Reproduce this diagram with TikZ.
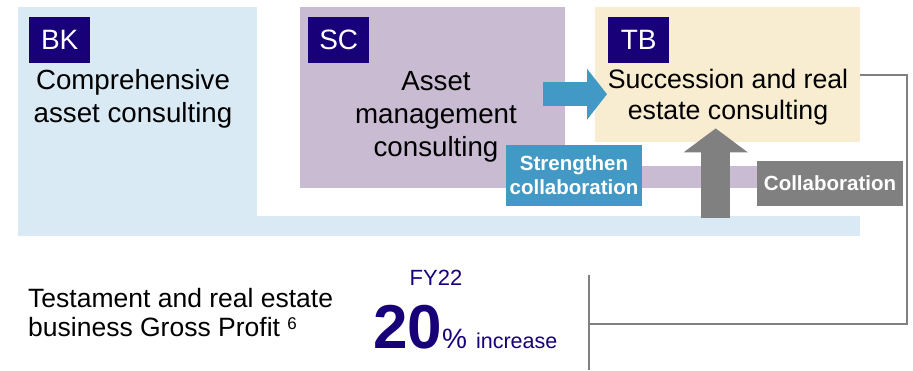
\documentclass[tikz,border=0pt]{standalone}
\usepackage{fontspec}
\setmainfont{Liberation Sans}
\usetikzlibrary{arrows.meta,calc}
\definecolor{navy}{HTML}{170078}
\definecolor{skyblu}{HTML}{DAEAF4}
\definecolor{lilac}{HTML}{C9BBD1}
\definecolor{sand}{HTML}{F8EDD1}
\definecolor{blu}{HTML}{4299C6}
\definecolor{gry}{HTML}{808080}
\tikzset{
  region/.style={anchor=north west, inner sep=0pt},
  tag/.style={region, fill=navy, text=white, minimum width=61pt, minimum height=46pt, font=\fontsize{28}{28}\selectfont},
  body/.style={anchor=base, align=center, inner sep=0pt, font=\fontsize{27.7}{33}\selectfont},
  badge/.style={inner sep=0pt, text=white, align=center, font=\fontsize{20.5}{24}\selectfont\bfseries},
  link/.style={gry, line width=2pt},
}

\begin{document}
\begin{tikzpicture}[x=1pt, y=-1pt]
  \useasboundingbox (0,0) rectangle (913,370);
  % Regions
  \node[region, fill=skyblu, minimum width=239pt, minimum height=229pt] (bk) at (18,7) {};
  \fill[skyblu] (bk.south east) rectangle (860,216);
  \node[region, fill=lilac, minimum width=265pt, minimum height=181pt] (sc) at (300,7) {};
  \fill[lilac] (sc.south east) rectangle (757,166);
  \node[region, fill=sand, minimum width=265pt, minimum height=135pt] (tb) at (595,7) {};
  % Tags
  \node[tag] (bktag) at (29,17) {BK};
  \node[tag] (sctag) at (308,17) {SC};
  \node[tag] (tbtag) at (608,17) {TB};
  % Texts (base = last line)
  \node[body] (bktext) at (133,122) {Comprehensive\\asset consulting};
  \node[body] (sctext) at (436,156) {Asset\\management\\consulting};
  \node[body, font=\fontsize{26.7}{31}\selectfont] (tbtext) at (728,119) {Succession and real\\estate consulting};
  % Arrows
  \coordinate (bluestart) at ([xshift=-22pt, yshift=3.5pt]sc.east);
  \draw[blu, line width=24pt, -{Triangle[length=20pt, width=50pt]}] (bluestart) -- ($(tb.west |- bluestart)+(12,0)$);
  \node[badge, fill=blu, minimum width=136pt, minimum height=61pt] (strengthen) at (574,175.5) {Strengthen\\collaboration};
  \draw[gry, line width=29pt, -{Triangle[length=24pt, width=63pt]}] ($(tb.south)+(-12,76)$) -- ($(tb.south)+(-12,-14)$);
  \node[badge, fill=gry, minimum width=146pt, minimum height=45pt] (collab) at (830,183.5) {Collaboration};
  % Lines
  \coordinate (septop) at (589,275);
  \coordinate (sepmid) at (589,324);
  \coordinate (sepbot) at (589,370);
  \draw[link] (tb.east) -- ++(47,0) |- (sepmid);
  \draw[link] (septop) -- (sepbot);
  % Result
  \node[anchor=base west, align=left, inner sep=0pt, font=\fontsize{26.5}{29}\selectfont] (gp) at (28,336) {Testament and real estate\\business Gross Profit \raisebox{7pt}{\fontsize{17}{17}\selectfont 6}};
  \node[anchor=base, inner sep=0pt, text=navy, font=\fontsize{22}{22}\selectfont] (fy) at (436,285) {FY22};
  \node[anchor=base west, inner sep=0pt, text=navy] (rate) at (373,348) {{\fontsize{62}{62}\selectfont\bfseries 20}{\fontsize{28}{28}\selectfont\%}\hspace{9pt}{\fontsize{21.5}{21.5}\selectfont increase}};
\end{tikzpicture}
\end{document}
